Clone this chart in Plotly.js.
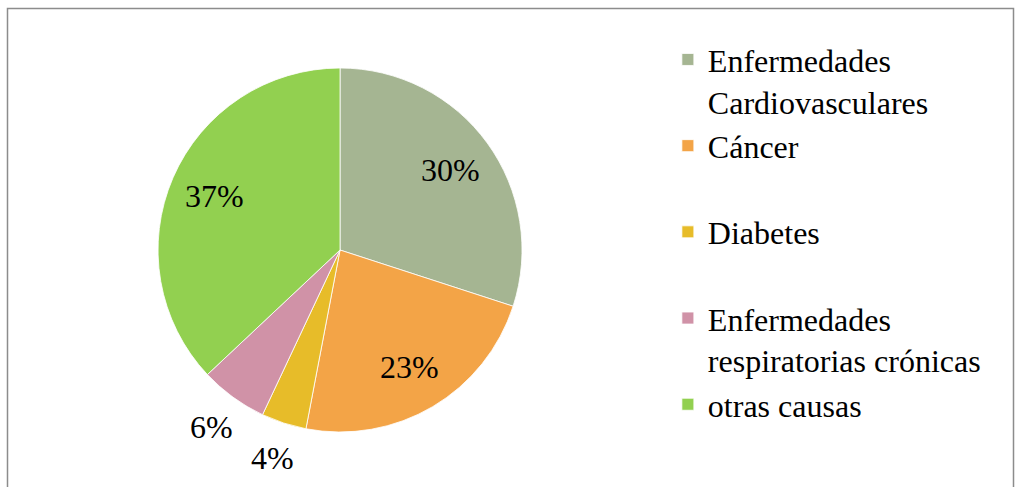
<!DOCTYPE html>
<html>
<head>
<meta charset="utf-8">
<script src="https://cdn.plot.ly/plotly-3.0.1.min.js"></script>
<style>html,body{margin:0;padding:0;background:#fff;}#chart{width:1015px;height:487px;}</style>
</head>
<body>
<div id="chart"></div>
<script>
const categories = ["Enfermedades Cardiovasculares", "Cáncer", "Diabetes", "Enfermedades respiratorias crónicas", "otras causas"];
const legendLabels = ["Enfermedades<br>Cardiovasculares", "Cáncer<br> ", "Diabetes<br> ", "Enfermedades<br>respiratorias crónicas", "otras causas<br> "];
const values = [30, 23, 4, 6, 37];
const colors = ["#A5B592", "#F3A447", "#E7BC29", "#D092A7", "#92D050"];
const labelInside = [true, true, false, false, true];

const W = 1015, H = 487;
const font = {family: "Liberation Serif, Times New Roman, serif", size: 32, color: "#000"};
const domain = {x: [0.1557, 0.5143], y: [0.1129, 0.8604]};

// pie geometry derived from the domain (pixels, zero margins)
const cx = (domain.x[0] + domain.x[1]) / 2 * W;
const cy = (1 - (domain.y[0] + domain.y[1]) / 2) * H;
const R = Math.min((domain.x[1] - domain.x[0]) * W, (domain.y[1] - domain.y[0]) * H) / 2;

const total = values.reduce((a, b) => a + b, 0);
let cum = 0;
const annotations = values.map((v, i) => {
  const mid = (cum + v / 2) / total * 2 * Math.PI;
  cum += v;
  const rr = R * (labelInside[i] ? 0.75 : 1.2);
  const px = cx + rr * Math.sin(mid);
  const py = cy - rr * Math.cos(mid);
  return {
    xref: "paper", yref: "paper", x: px / W, y: 1 - py / H,
    xanchor: "center", yanchor: "middle",
    text: Math.round(v / total * 100) + "%",
    showarrow: false, font: font
  };
});

const trace = {
  type: "pie",
  labels: legendLabels,
  values: values,
  sort: false,
  direction: "clockwise",
  rotation: 0,
  textinfo: "none",
  marker: {colors: colors, line: {color: "#ffffff", width: 0.8}},
  domain: domain,
  hoverinfo: "label+percent",
  automargin: false
};

const layout = {
  width: W,
  height: H,
  margin: {l: 0, r: 0, t: 0, b: 0},
  paper_bgcolor: "#fff",
  showlegend: true,
  font: font,
  annotations: annotations,
  legend: {
    x: 0.658, y: 0.934, xanchor: "left", yanchor: "top",
    valign: "top",
    font: font,
    bgcolor: "rgba(0,0,0,0)"
  },
  shapes: [{
    type: "rect", xref: "paper", yref: "paper",
    x0: 7.5 / W, x1: 1013.5 / W, y0: -0.1, y1: 1 - 8.5 / H,
    line: {color: "#8c8c8c", width: 1.5}, fillcolor: "rgba(0,0,0,0)"
  }]
};

Plotly.newPlot("chart", [trace], layout, {displayModeBar: false, staticPlot: true});
</script>
</body>
</html>
